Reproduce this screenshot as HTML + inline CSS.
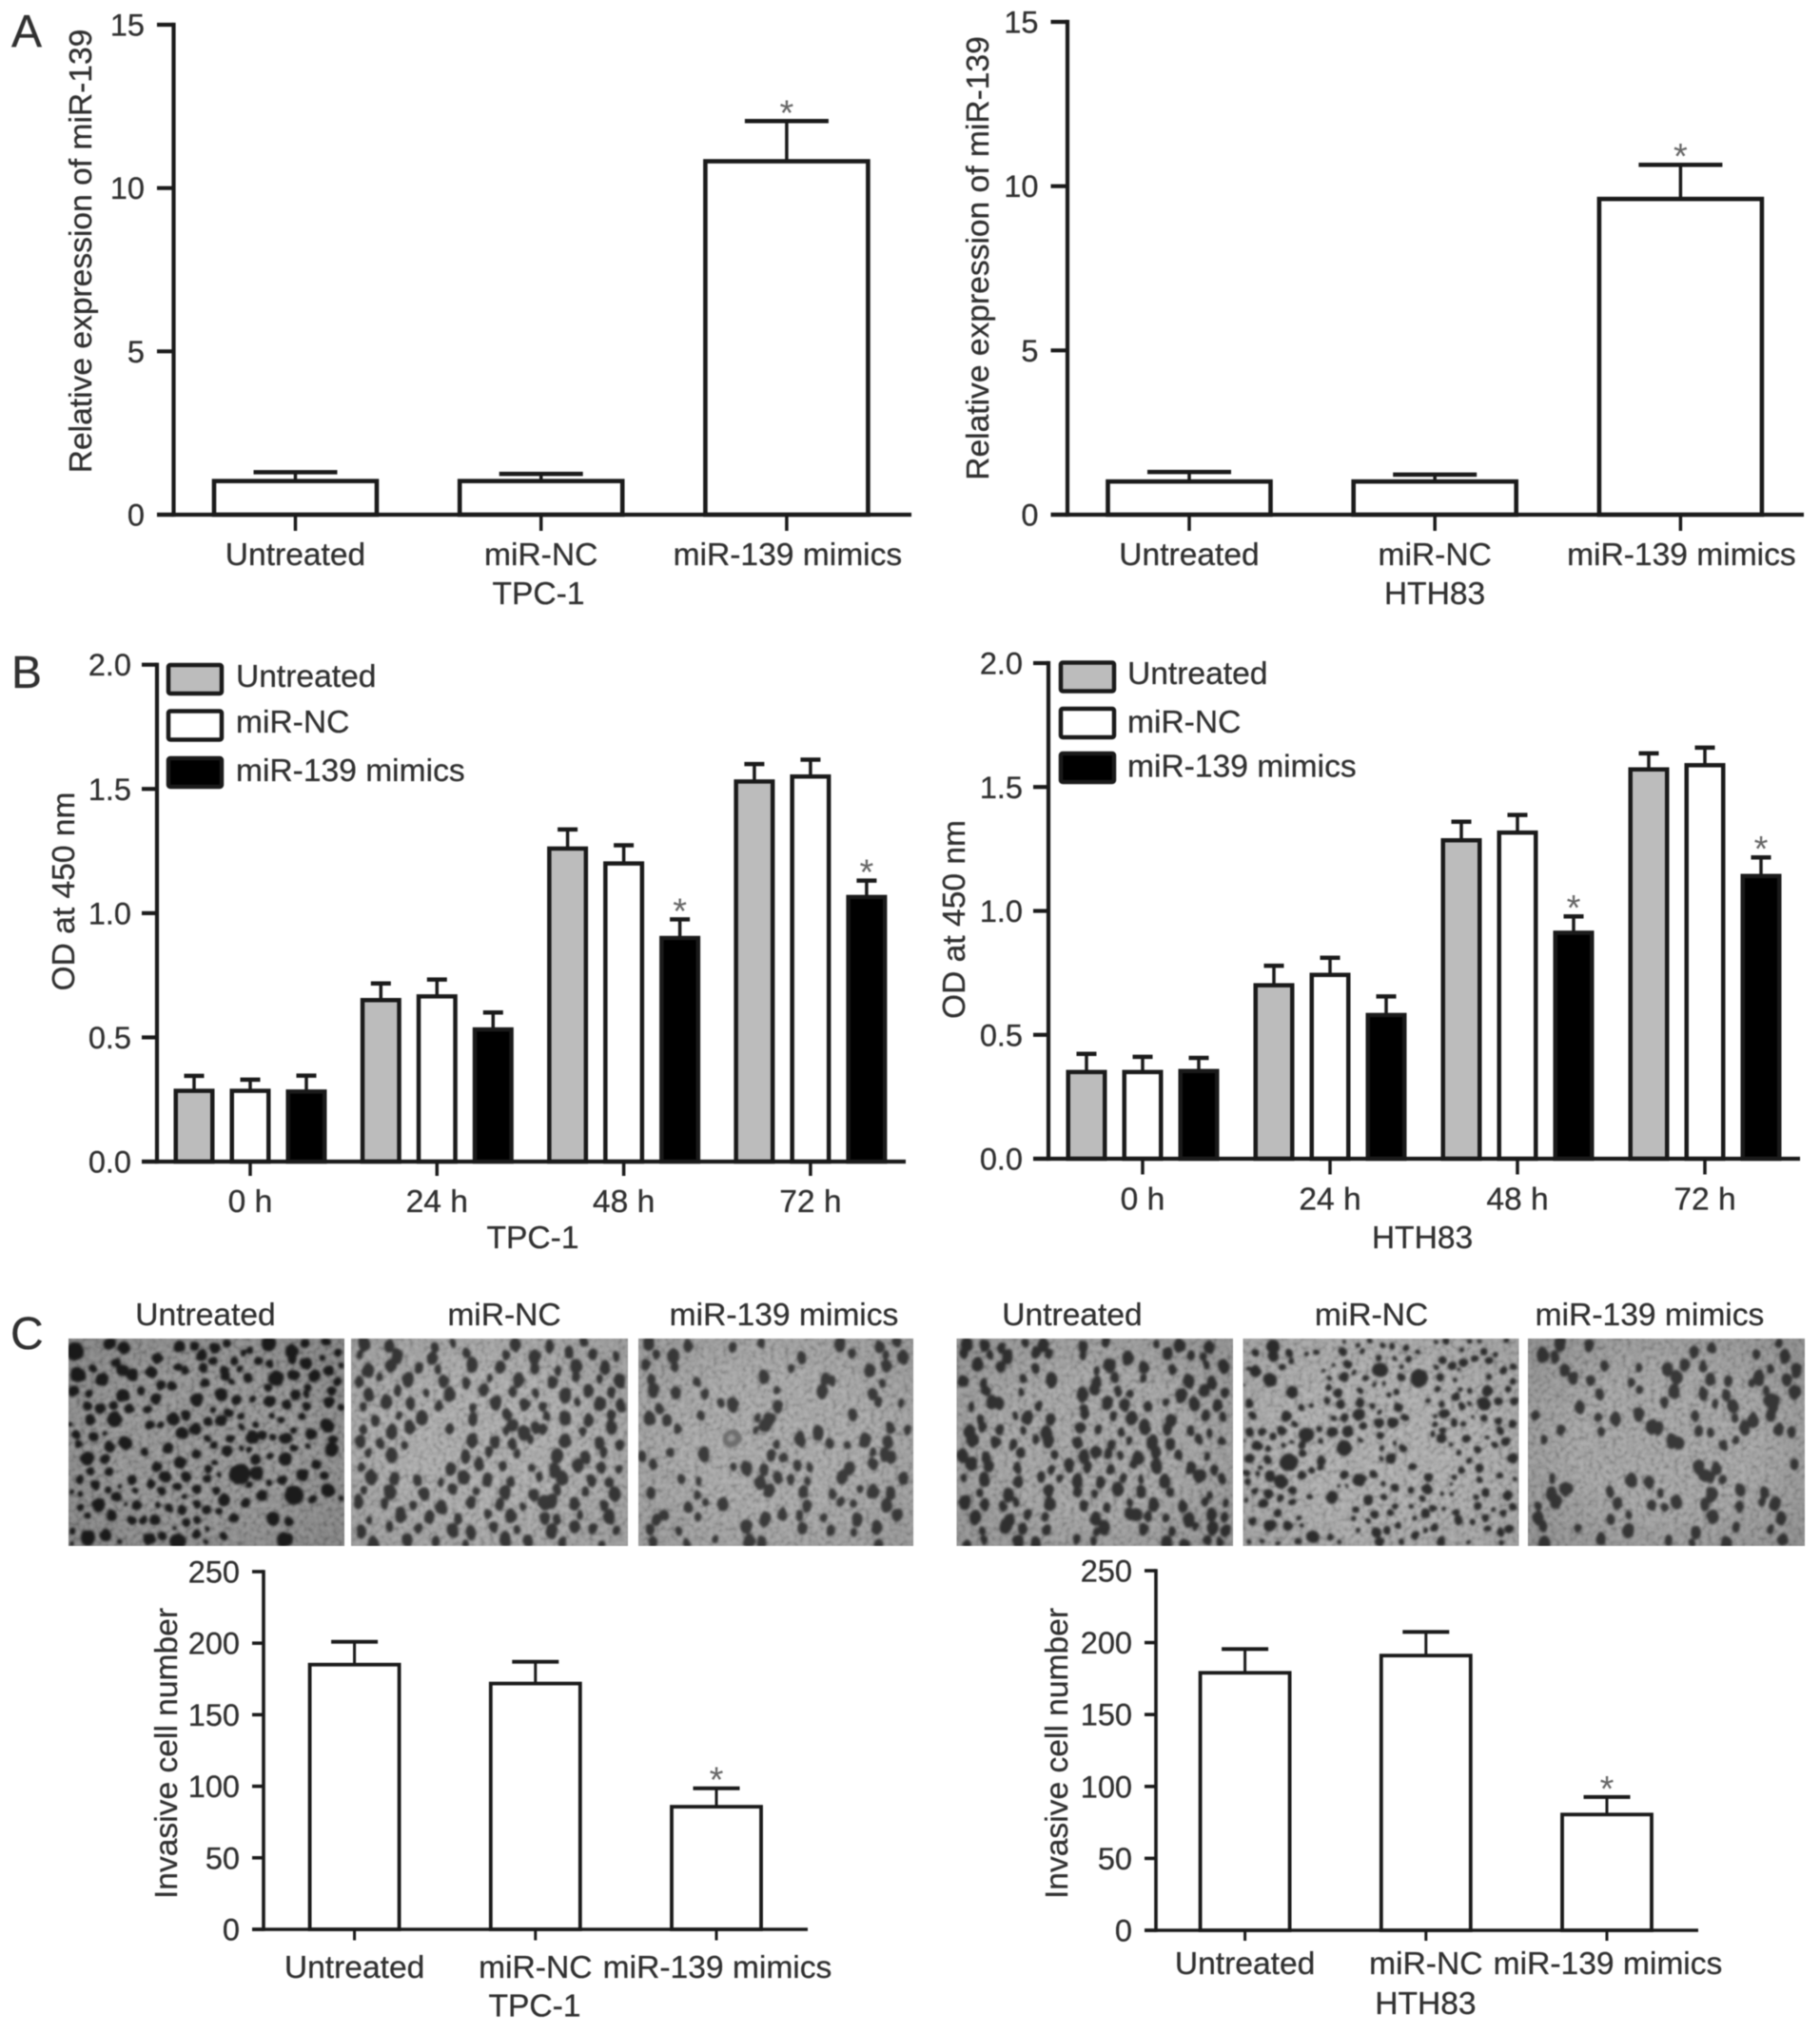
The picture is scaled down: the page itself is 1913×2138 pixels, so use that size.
<!DOCTYPE html>
<html lang="en">
<head>
<meta charset="utf-8">
<title>miR-139 figure</title>
<style>
html,body{margin:0;padding:0;background:#fff;}
#figure{display:block;width:1913px;height:2138px;filter:blur(0.55px);}
text{font-family:"Liberation Sans",sans-serif;fill:#303030;stroke:#303030;stroke-width:0.3px;}
</style>
</head>
<body>
<svg id="figure" xmlns="http://www.w3.org/2000/svg" width="1913" height="2138" viewBox="0 0 1913 2138">
<defs>
<filter id="grain" x="0" y="0" width="100%" height="100%">
<feTurbulence type="fractalNoise" baseFrequency="0.2" numOctaves="2" seed="4" result="n"/>
<feColorMatrix in="n" type="matrix" values="2.4 0 0 0 -0.7  2.4 0 0 0 -0.7  2.4 0 0 0 -0.7  0 0 0 0 1"/>
<feGaussianBlur stdDeviation="0.7"/>
</filter>
<filter id="soft" x="-5%" y="-5%" width="110%" height="110%">
<feTurbulence type="fractalNoise" baseFrequency="0.09" numOctaves="2" seed="9" result="w"/>
<feDisplacementMap in="SourceGraphic" in2="w" scale="4" xChannelSelector="R" yChannelSelector="G" result="d"/>
<feGaussianBlur in="d" stdDeviation="1.3"/>
</filter>
<radialGradient id="vignette" cx="50%" cy="50%" r="72%">
<stop offset="0.45" stop-color="#000" stop-opacity="0"/>
<stop offset="1" stop-color="#000" stop-opacity="0.22"/>
</radialGradient>
</defs>
</svg>
<script>
// ---------- Panel A data ----------
const groupNames = ['Untreated', 'miR-NC', 'miR-139 mimics'];
const expressionTicks = [0, 5, 10, 15];
const aLeftValues = [1.03, 1.03, 10.82];
const aLeftErrorTops = [1.3, 1.25, 12.05];
const aRightValues = [1.01, 1.01, 9.61];
const aRightErrorTops = [1.3, 1.22, 10.65];

// ---------- Panel B data ----------
const timeLabels = ['0 h', '24 h', '48 h', '72 h'];
const odTicks = [0, 0.5, 1.0, 1.5, 2.0];
const bLeftUntreated = [0.285, 0.65, 1.26, 1.53];
const bLeftNC = [0.285, 0.665, 1.2, 1.55];
const bLeftMimics = [0.282, 0.532, 0.9, 1.065];
const bLeftUntreatedTops = [0.345, 0.717, 1.337, 1.6];
const bLeftNCTops = [0.33, 0.733, 1.273, 1.618];
const bLeftMimicsTops = [0.346, 0.6, 0.975, 1.131];
const bRightUntreated = [0.35, 0.7, 1.285, 1.571];
const bRightNC = [0.35, 0.742, 1.316, 1.588];
const bRightMimics = [0.354, 0.58, 0.912, 1.141];
const bRightUntreatedTops = [0.423, 0.779, 1.36, 1.636];
const bRightNCTops = [0.411, 0.811, 1.387, 1.659];
const bRightMimicsTops = [0.407, 0.655, 0.978, 1.216];
const bStarredGroups = [2, 3];

// ---------- Panel C data ----------
const invasionTicks = [0, 50, 100, 150, 200, 250];
const cLeftValues = [185, 171.8, 85.7];
const cLeftErrorTops = [201, 187, 98.6];
const cRightValues = [179, 191, 80.5];
const cRightErrorTops = [195.5, 207.4, 92.7];

// ---------- Micrograph cells: [x, y, r] on an 870x654 crop ----------
const cellsTPCUntreated = [[20,40,26],[130,15,18],[175,30,18],[350,25,16],[397,22,14],[420,52,16],[462,30,16],[500,15,12],[552,45,10],[572,38,10],[632,15,22],[705,40,20],[745,15,14],[812,10,14],[850,45,12],[280,62,16],[150,75,14],[78,95,12],[170,100,18],[262,105,18],[345,90,12],[368,100,12],[425,92,14],[455,70,14],[522,70,12],[600,72,13],[632,80,12],[705,65,14],[750,78,18],[800,62,10],[490,100,14],[540,95,10],[820,100,16],[860,85,8],[30,115,22],[105,128,20],[200,115,18],[290,148,14],[325,148,14],[430,140,15],[495,120,14],[515,135,10],[565,125,14],[655,125,22],[710,115,17],[775,118,18],[850,135,14],[630,155,12],[755,155,12],[15,165,16],[65,172,12],[230,165,13],[480,175,18],[830,165,14],[172,180,20],[275,190,16],[405,192,20],[582,190,10],[530,195,15],[633,197,17],[715,178,16],[750,175,10],[820,200,16],[60,213,14],[100,220,16],[142,212,14],[190,222,14],[250,225,12],[688,208,14],[750,213,14],[860,215,10],[455,225,10],[370,242,14],[330,253,18],[68,257,15],[145,255,22],[505,235,14],[545,245,12],[640,245,10],[735,248,12],[440,262,14],[480,258,16],[670,258,10],[255,272,14],[290,272,12],[400,285,17],[590,270,10],[545,280,10],[815,275,20],[4,270,6],[360,298,18],[25,302,14],[78,310,14],[115,298,8],[510,315,12],[580,310,18],[612,305,14],[645,312,12],[685,315,18],[765,300,17],[710,290,10],[835,318,14],[32,332,12],[130,340,16],[178,330,20],[437,315,10],[458,335,12],[315,345,16],[545,345,8],[570,350,10],[712,345,12],[755,340,8],[830,350,20],[500,355,16],[240,358,12],[403,365,14],[60,378,20],[115,380,14],[352,390,18],[590,382,14],[635,370,10],[685,378,18],[780,398,14],[462,392,8],[278,405,16],[68,418,12],[128,420,12],[540,428,30],[593,425,20],[440,410,12],[372,435,15],[305,437,18],[738,430,18],[808,432,12],[437,440,12],[675,447,15],[632,455,10],[35,445,12],[200,447,14],[262,458,14],[85,462,14],[570,462,10],[160,465,8],[475,430,8],[10,483,8],[38,492,9],[125,477,10],[342,467,13],[405,475,14],[293,480,12],[465,478,12],[150,498,14],[210,480,10],[610,495,16],[712,495,28],[820,480,20],[770,505,12],[860,503,8],[365,498,8],[490,510,18],[95,525,20],[558,520,14],[180,520,6],[215,525,14],[405,522,12],[280,525,10],[38,533,10],[318,535,12],[435,540,14],[358,542,14],[58,558,10],[135,558,16],[475,545,10],[405,572,12],[522,565,14],[200,575,14],[235,572,12],[273,572,15],[372,580,12],[645,568,20],[695,578,14],[335,598,6],[12,608,10],[60,628,22],[118,620,16],[438,600,8],[488,622,12],[295,622,12],[403,618,14],[255,632,18],[345,640,24],[682,635,22],[432,640,8],[160,640,8],[10,645,6]];
const cellsHTHNC = [[95,25,20],[40,45,10],[95,55,16],[145,47,12],[200,47,8],[232,45,10],[152,70,10],[315,40,12],[360,20,8],[375,40,8],[320,10,6],[400,8,8],[440,22,8],[470,25,10],[515,30,10],[550,42,8],[430,60,10],[480,62,8],[522,65,10],[640,8,10],[610,10,6],[690,35,7],[715,8,8],[745,8,7],[760,42,10],[830,5,8],[628,68,12],[660,85,12],[695,75,14],[730,62,12],[775,68,12],[795,50,8],[38,103,18],[85,130,20],[125,92,10],[15,95,7],[255,100,6],[285,85,6],[330,80,14],[350,108,9],[318,122,14],[270,125,8],[385,122,9],[432,100,22],[498,122,12],[500,90,8],[555,125,26],[610,92,8],[622,122,12],[670,130,8],[680,100,6],[775,122,11],[820,100,12],[852,88,10],[850,135,10],[155,170,18],[270,155,10],[298,172,14],[370,165,10],[445,142,7],[415,145,7],[485,168,10],[460,175,8],[615,160,10],[670,183,14],[685,160,8],[770,165,16],[835,160,10],[715,165,8],[5,145,4],[20,205,12],[265,197,10],[308,207,14],[368,202,14],[408,213,9],[183,218,10],[215,210,8],[490,218,14],[585,197,8],[627,205,9],[690,212,10],[715,205,7],[760,205,20],[805,198,12],[855,198,12],[30,243,12],[137,245,16],[285,252,10],[320,250,12],[365,240,18],[430,232,8],[635,235,15],[605,245,8],[510,250,12],[725,248,6],[760,250,10],[165,270,10],[430,265,14],[472,265,16],[665,265,12],[605,272,8],[695,272,8],[805,262,12],[850,270,12],[380,275,10],[240,285,10],[120,290,14],[20,295,12],[60,295,12],[282,295,15],[330,292,16],[630,290,10],[200,305,22],[810,290,12],[95,310,11],[432,305,12],[370,322,8],[625,315,14],[600,300,8],[705,315,12],[770,312,7],[480,330,7],[320,345,22],[45,338,14],[78,348,10],[130,337,7],[155,325,7],[185,335,12],[245,322,8],[5,325,4],[830,325,14],[795,335,9],[740,350,10],[655,335,6],[505,348,12],[437,345,8],[190,362,12],[680,360,9],[20,378,15],[145,390,26],[78,382,12],[245,385,14],[467,378,15],[435,380,8],[850,378,16],[715,385,9],[535,402,12],[55,408,8],[245,405,10],[218,415,10],[745,410,13],[690,415,11],[10,425,10],[45,428,8],[185,430,14],[85,435,16],[120,450,20],[318,430,13],[410,428,11],[367,445,20],[585,440,14],[668,438,8],[810,432,10],[745,445,10],[860,442,8],[15,450,9],[442,458,9],[655,458,5],[302,467,5],[330,465,5],[480,470,14],[530,478,10],[38,480,10],[155,480,12],[580,475,14],[765,485,12],[835,495,14],[80,490,14],[210,497,9],[280,500,18],[395,510,14],[445,500,10],[565,505,10],[630,490,7],[660,490,7],[735,500,9],[118,505,12],[10,510,7],[65,520,14],[155,515,10],[850,530,12],[740,528,12],[480,530,9],[530,530,8],[600,535,10],[355,540,10],[630,538,7],[30,575,12],[110,550,14],[175,565,8],[415,555,12],[465,550,10],[575,550,14],[672,548,11],[820,550,10],[790,540,7],[85,590,18],[140,590,14],[185,590,7],[350,567,8],[395,575,8],[540,565,9],[680,573,14],[725,578,9],[765,567,11],[605,595,12],[575,605,8],[490,590,10],[840,600,12],[360,605,7],[455,605,12],[420,612,14],[770,600,10],[812,610,12],[220,625,18],[275,625,10],[175,640,10],[20,640,8],[60,638,7],[305,640,7],[430,640,14],[500,640,9],[545,620,12],[625,640,14],[710,642,7],[815,643,8],[110,645,7]];

// ---------- Micrograph cell rows: [row, [columns]] ----------
const photoTPCNC = [[3,[5,14,30,36,60,72,84]],[8,[3,16,30,42,56,66,78,88,96]],[14,[6,14,24,32,44,54,66,74,82,92]],[20,[3,10,20,34,42,50,60,72,82,90,97]],[26,[6,16,28,36,48,58,66,78,86,94]],[32,[4,12,22,32,44,52,62,70,82,90,97]],[38,[8,18,26,44,56,70,78,86,94]],[44,[4,14,22,36,56,62,66,70,84,94]],[50,[3,10,20,44,52,58,64,78,90,97]],[56,[6,14,42,50,60,74,84,92]],[62,[4,36,46,54,66,74,82,90,96]],[68,[8,16,24,32,40,50,58,68,76,86,94]],[74,[5,14,26,36,46,56,66,74,84,96]],[80,[3,12,22,32,44,54,62,72,80,92]],[86,[7,18,28,38,50,58,70,74,82,94]],[92,[4,14,24,36,44,52,60,72,80,88,96]],[98,[8,20,30,42,56,64,76,90]]];
const photoTPCMimics = [[3,[4,18,34,44,74,88,94]],[8,[6,12,60,78,90,96]],[14,[2,14,56,84,90]],[20,[4,22,46,68,70,88]],[26,[6,14,24,50,66,86]],[32,[8,30,34,50,88,96]],[38,[4,10,22,44,48,78]],[44,[14,42,66,92,98]],[50,[50,58,60,70,76,82,90]],[56,[2,12,24,48,52,86,90,92]],[62,[5,34,40,46,58,62,76,86]],[68,[16,22,44,50,56,62,74,96]],[74,[4,22,48,60,70,80,86,92]],[80,[18,24,30,62,74,78,90]],[86,[6,10,22,46,52,58,68,80,94]],[92,[4,14,40,60,70,78,86]],[98,[6,18,28,40,44,88]]];
const photoHTHUntreated = [[3,[4,10,16,24,32,46,54,72,80,92]],[8,[3,12,18,28,34,46,62,76,84,90]],[14,[8,16,28,50,56,68,78,90,96]],[20,[3,10,24,34,50,58,68,84,92]],[26,[10,24,46,50,58,62,82,90,97]],[32,[5,12,16,30,46,54,60,70,76,86,94]],[38,[8,22,26,34,46,56,64,78,90,96]],[44,[4,10,16,24,32,44,52,60,68,76,84,92]],[50,[6,14,20,28,34,44,56,62,70,78,88,96]],[56,[2,10,24,36,46,50,54,60,66,72,80,90]],[62,[6,12,22,34,40,48,56,64,72,84,94]],[68,[3,10,22,30,38,44,52,60,66,76,88,96]],[74,[8,18,34,44,50,58,66,78,92]],[80,[3,10,16,22,34,46,54,62,72,82,90,97]],[86,[6,20,26,32,50,62,70,76,84,92,96]],[92,[10,18,24,32,50,54,68,78,86,92,98]],[98,[4,10,22,28,44,50,76,82,90,96]]];
const photoHTHMimics = [[3,[12,22,66,90]],[8,[6,10,60,82,92]],[14,[14,28,40,50,56,64,88,97]],[20,[16,22,38,54,66,72,80,84,94]],[26,[26,40,52,64,72,86,96]],[32,[18,50,68,74,88]],[38,[2,26,32,40,60,74,82,88]],[44,[12,26,44,48,62,66,78,90,96]],[50,[6,52,54,70,76]],[62,[62,68,96]],[68,[8,38,44,66,70]],[74,[8,14,30,48,66,76,86]],[80,[4,10,32,44,50,54,64,76,84,90]],[86,[4,30,36,66,92]],[92,[6,18,36,60,76,88]],[98,[6,26,50,60,72,92]]];

const NS = 'http://www.w3.org/2000/svg';
const root = document.getElementById('figure');
const LABEL_SIZE = 33.6;
const TICK_SIZE = 32.5;

function mk(tag, attrs, parent) {
  const e = document.createElementNS(NS, tag);
  for (const k in attrs) e.setAttribute(k, attrs[k]);
  (parent || root).appendChild(e);
  return e;
}
function label(str, x, y, size, anchor, parent) {
  const t = mk('text', {x: x, y: y, 'font-size': size, 'text-anchor': anchor}, parent);
  t.textContent = str;
  return t;
}

function drawAxes(g, L, ticks, fmt) {
  const yScale = v => L.y0 - (v / L.yMax) * (L.y0 - L.yTop);
  ticks.forEach(v => {
    const tk = mk('line', {x1: L.x0 - L.tickLeft, x2: L.x0, y1: yScale(v), y2: yScale(v), stroke: '#1a1a1a', 'stroke-width': L.axisW}, g);
    
    
    const tl = label(fmt(v), L.x0 - L.tickLeft - L.labelGap, yScale(v) + 11.5, TICK_SIZE, 'end', g);
    
    
  });
  const ya = mk('line', {x1: L.x0, x2: L.x0, y1: yScale(L.yMax) - L.axisW / 2, y2: L.y0 + L.axisW / 2, stroke: '#1a1a1a', 'stroke-width': L.axisW}, g);
  
  
  const xa = mk('line', {x1: L.x0 - L.tickLeft, x2: L.xEnd, y1: L.y0, y2: L.y0, stroke: '#1a1a1a', 'stroke-width': L.axisW}, g);
  
  
  const yt = label(L.yTitle, L.yTitleX, L.yTitleY, LABEL_SIZE, 'middle', g);
  yt.setAttribute('transform', 'rotate(-90 ' + L.yTitleX + ' ' + L.yTitleY + ')');
  
  
  return yScale;
}

function drawBar(g, cx, w, v, top, fill, yScale, L, starred) {
  const w1 = mk('line', {x1: cx, x2: cx, y1: yScale(v), y2: yScale(top), stroke: '#1a1a1a', 'stroke-width': L.errW}, g);
  
  
  const c1 = mk('line', {x1: cx - L.capW / 2, x2: cx + L.capW / 2, y1: yScale(top), y2: yScale(top), stroke: '#1a1a1a', 'stroke-width': L.capS}, g);
  
  
  const b = mk('rect', {x: cx - w / 2, y: yScale(v), width: w, height: L.y0 - yScale(v), fill: fill, stroke: '#1a1a1a', 'stroke-width': L.barS}, g);
  
  
  if (starred) {
    const s = label('*', cx, yScale(top) + 4, 38, 'middle', g);
    s.setAttribute('style', 'fill:#666;stroke:none');
    
    
  }
}

function drawSimple(name, L, ticks, cats, values, tops, sub) {
  const g = mk('g', {});
  
  
  const xScale = i => L.first + i * L.step;
  const yScale = v => L.y0 - (v / L.yMax) * (L.y0 - L.yTop);
  values.forEach((v, i) => drawBar(g, xScale(i), L.barW, v, tops[i], '#fff', yScale, L, i === 2));
  drawAxes(g, L, ticks, v => String(v));
  cats.forEach((c, i) => {
    const t = mk('line', {x1: xScale(i), x2: xScale(i), y1: L.y0, y2: L.tickBottom, stroke: '#1a1a1a', 'stroke-width': L.xTickW}, g);
    
    
    const tl = label(c, xScale(i) + (i === 2 ? 1 : 0), L.catY, LABEL_SIZE, 'middle', g);
    
    
  });
  const st = label(sub, L.subX, L.subY, LABEL_SIZE, 'middle', g);
  
  
}

function drawGrouped(name, L, series, seriesTops, sub) {
  const g = mk('g', {});
  
  
  const fills = ['#bcbcbc', '#fff', '#000'];
  const xScale = i => L.first + i * L.step;
  const yScale = v => L.y0 - (v / L.yMax) * (L.y0 - L.yTop);
  series.forEach((vals, s) => {
    vals.forEach((v, i) => {
      const star = s === 2 && bStarredGroups.indexOf(i) >= 0;
      drawBar(g, xScale(i) + (s - 1) * L.barStep, L.barW, v, seriesTops[s][i], fills[s], yScale, L, star);
    });
  });
  drawAxes(g, L, odTicks, v => v.toFixed(1));
  timeLabels.forEach((c, i) => {
    const t = mk('line', {x1: xScale(i), x2: xScale(i), y1: L.y0, y2: L.tickBottom, stroke: '#1a1a1a', 'stroke-width': L.xTickW}, g);
    
    
    const tl = label(c, xScale(i), L.catY, LABEL_SIZE, 'middle', g);
    
    
  });
  const st = label(sub, L.subX, L.subY, LABEL_SIZE, 'middle', g);
  
  
  groupNames.forEach((n, s) => {
    const r = mk('rect', {x: L.legX, y: L.legY[s], width: L.legW, height: L.legH, rx: 2, fill: fills[s], stroke: '#1a1a1a', 'stroke-width': 4.5}, g);
    
    
    const t = label(n, L.legTextX, L.legBase[s], LABEL_SIZE, 'start', g);
    
    
  });
}

function drawPhoto(name, P, rows) {
  const g = mk('g', {});
  
  
  const clipId = name + '-clip';
  const cp = mk('clipPath', {id: clipId}, g);
  mk('rect', {x: P.x, y: 1407, width: P.w, height: 218}, cp);
  const inner = mk('g', {'clip-path': 'url(#' + clipId + ')'}, g);
  mk('rect', {x: P.x, y: 1407, width: P.w, height: 218, fill: P.bg}, inner);
  mk('rect', {x: P.x, y: 1407, width: P.w, height: 218, filter: 'url(#grain)', opacity: 0.16}, inner);
  const cells = mk('g', {filter: 'url(#soft)'}, inner);
  (P.cells || []).forEach(c => {
    const cell = mk('ellipse', {cx: P.x + c[0] / 870 * P.w, cy: 1407 + c[1] / 654 * 218, rx: c[2] * 1.1 / 3, ry: c[2] * 1.1 / 3, fill: P.cell}, cells);
    
    
  });
  let n = 0;
  (rows || []).forEach(row => {
    row[1].forEach(col => {
      n++;
      const r = P.r + (n * 7) % 4 * 0.9;
      const cell = mk('ellipse', {
        cx: P.x + col / 100 * P.w + ((n * 11) % 5 - 2),
        cy: 1407 + row[0] / 100 * 218 + ((n * 37) % 7 - 3),
        rx: r * 0.85, ry: r * 1.12, fill: P.cell
      }, cells);
      
      
    });
  });
  (P.extra || []).forEach(c => {
    const big = mk('circle', {cx: P.x + c[0] / 100 * P.w, cy: 1407 + c[1] / 100 * 218, r: c[2], fill: c[3] || P.cell}, cells);
    
    
  });
  mk('rect', {x: P.x, y: 1407, width: P.w, height: 218, fill: 'url(#vignette)', opacity: P.vig}, inner);
  const t = label(P.title, P.tx, 1393, LABEL_SIZE, 'middle', g);
  
  
}

// ---------- Layouts (pixel geometry only) ----------
const baseA = {y0: 541, yMax: 15, step: 258.2, barW: 171, tickBottom: 558, tickLeft: 17.5, labelGap: 13, axisW: 4.2, xTickW: 3.5, errW: 3.5, capS: 4.5, capW: 88, barS: 4.6, catY: 594, subY: 635, yTitle: 'Relative expression of miR-139'};
const layoutALeft = Object.assign({}, baseA, {x0: 182.5, yTop: 26, xEnd: 958, first: 310.5, subX: 566, yTitleX: 96, yTitleY: 264});
const layoutARight = Object.assign({}, baseA, {x0: 1122, yTop: 23, xEnd: 1896, first: 1250, subX: 1508, yTitleX: 1039, yTitleY: 271.5});

const baseB = {yMax: 2, step: 196.3, barStep: 59, barW: 38.5, tickLeft: 16, labelGap: 11, axisW: 4.2, xTickW: 3.5, errW: 3.5, capS: 4.5, capW: 21, barS: 4.5, legW: 56, legH: 30, yTitle: 'OD at 450 nm'};
const layoutBLeft = Object.assign({}, baseB, {x0: 165, y0: 1221, yTop: 698.7, xEnd: 952, first: 263, tickBottom: 1236, catY: 1274, subX: 560, subY: 1312, yTitleX: 78, yTitleY: 937, legX: 177, legY: [699, 747.5, 797], legTextX: 248, legBase: [722, 770, 821]});
const layoutBRight = Object.assign({}, baseB, {x0: 1102, y0: 1218, yTop: 697, xEnd: 1892, first: 1201, step: 197, tickBottom: 1234.5, catY: 1271.5, subX: 1495, subY: 1312, yTitleX: 1014, yTitleY: 966.5, legX: 1115, legY: [696.5, 745, 792], legTextX: 1185, legBase: [719, 770, 816.5]});

const baseC = {yMax: 250, step: 190.2, barW: 94, tickLeft: 12, labelGap: 13, axisW: 3.6, xTickW: 3, errW: 3, capS: 4, capW: 49, barS: 3.8};
const layoutCLeft = Object.assign({}, baseC, {x0: 277, y0: 2028, yTop: 1652, xEnd: 849, first: 372.6, tickBottom: 2039.5, catY: 2079, subX: 562, subY: 2119.5, yTitle: 'Invasive cell number', yTitleX: 186, yTitleY: 1843});
const layoutCRight = Object.assign({}, baseC, {x0: 1215, y0: 2029, yTop: 1651, xEnd: 1785, first: 1308.6, tickBottom: 2040, catY: 2075, subX: 1498.4, subY: 2117, yTitle: 'Invasive cell number', yTitleX: 1122, yTitleY: 1843});

// ---------- Draw ----------
drawSimple('chart-a-tpc1', layoutALeft, expressionTicks, groupNames, aLeftValues, aLeftErrorTops, 'TPC-1');
drawSimple('chart-a-hth83', layoutARight, expressionTicks, groupNames, aRightValues, aRightErrorTops, 'HTH83');
drawGrouped('chart-b-tpc1', layoutBLeft, [bLeftUntreated, bLeftNC, bLeftMimics], [bLeftUntreatedTops, bLeftNCTops, bLeftMimicsTops], 'TPC-1');
drawGrouped('chart-b-hth83', layoutBRight, [bRightUntreated, bRightNC, bRightMimics], [bRightUntreatedTops, bRightNCTops, bRightMimicsTops], 'HTH83');
drawSimple('chart-c-tpc1', layoutCLeft, invasionTicks, groupNames, cLeftValues, cLeftErrorTops, 'TPC-1');
drawSimple('chart-c-hth83', layoutCRight, invasionTicks, groupNames, cRightValues, cRightErrorTops, 'HTH83');

drawPhoto('micrograph-tpc1-untreated', {x: 72, w: 290, bg: '#8c8c8c', cell: '#1e1e1e', vig: 0.6, title: 'Untreated', tx: 216, cells: cellsTPCUntreated});
drawPhoto('micrograph-tpc1-mir-nc', {x: 369, w: 291, bg: '#a6a6a6', cell: '#383838', r: 4.6, vig: 0.5, title: 'miR-NC', tx: 530, extra: [[70, 79, 8], [58, 42, 7]]}, photoTPCNC);
drawPhoto('micrograph-tpc1-mimics', {x: 671, w: 289, bg: '#a2a2a2', cell: '#3a3a3a', r: 4.4, vig: 0.5, title: 'miR-139 mimics', tx: 824, extra: [[34, 48, 10, '#6e6e6e'], [34, 48, 4, '#999'], [46, 42, 7]]}, photoTPCMimics);
drawPhoto('micrograph-hth83-untreated', {x: 1005.5, w: 290.5, bg: '#9e9e9e', cell: '#303030', r: 4.4, vig: 0.6, title: 'Untreated', tx: 1127, extra: [[88, 66, 7], [65, 85, 7]]}, photoHTHUntreated);
drawPhoto('micrograph-hth83-mir-nc', {x: 1306.5, w: 290, bg: '#a8a8a8', cell: '#2e2e2e', vig: 0.4, title: 'miR-NC', tx: 1441.5, cells: cellsHTHNC});
drawPhoto('micrograph-hth83-mimics', {x: 1606, w: 291, bg: '#9e9e9e', cell: '#383838', r: 4.6, vig: 0.7, title: 'miR-139 mimics', tx: 1734, extra: [[88, 30, 8], [64, 66, 7], [14, 72, 7]]}, photoHTHMimics);

// ---------- Panel letters ----------
const letterA = label('A', 12, 49, 48, 'start');


const letterB = label('B', 12, 723, 48, 'start');


const letterC = label('C', 11, 1418, 48, 'start');


</script>
</body>
</html>
